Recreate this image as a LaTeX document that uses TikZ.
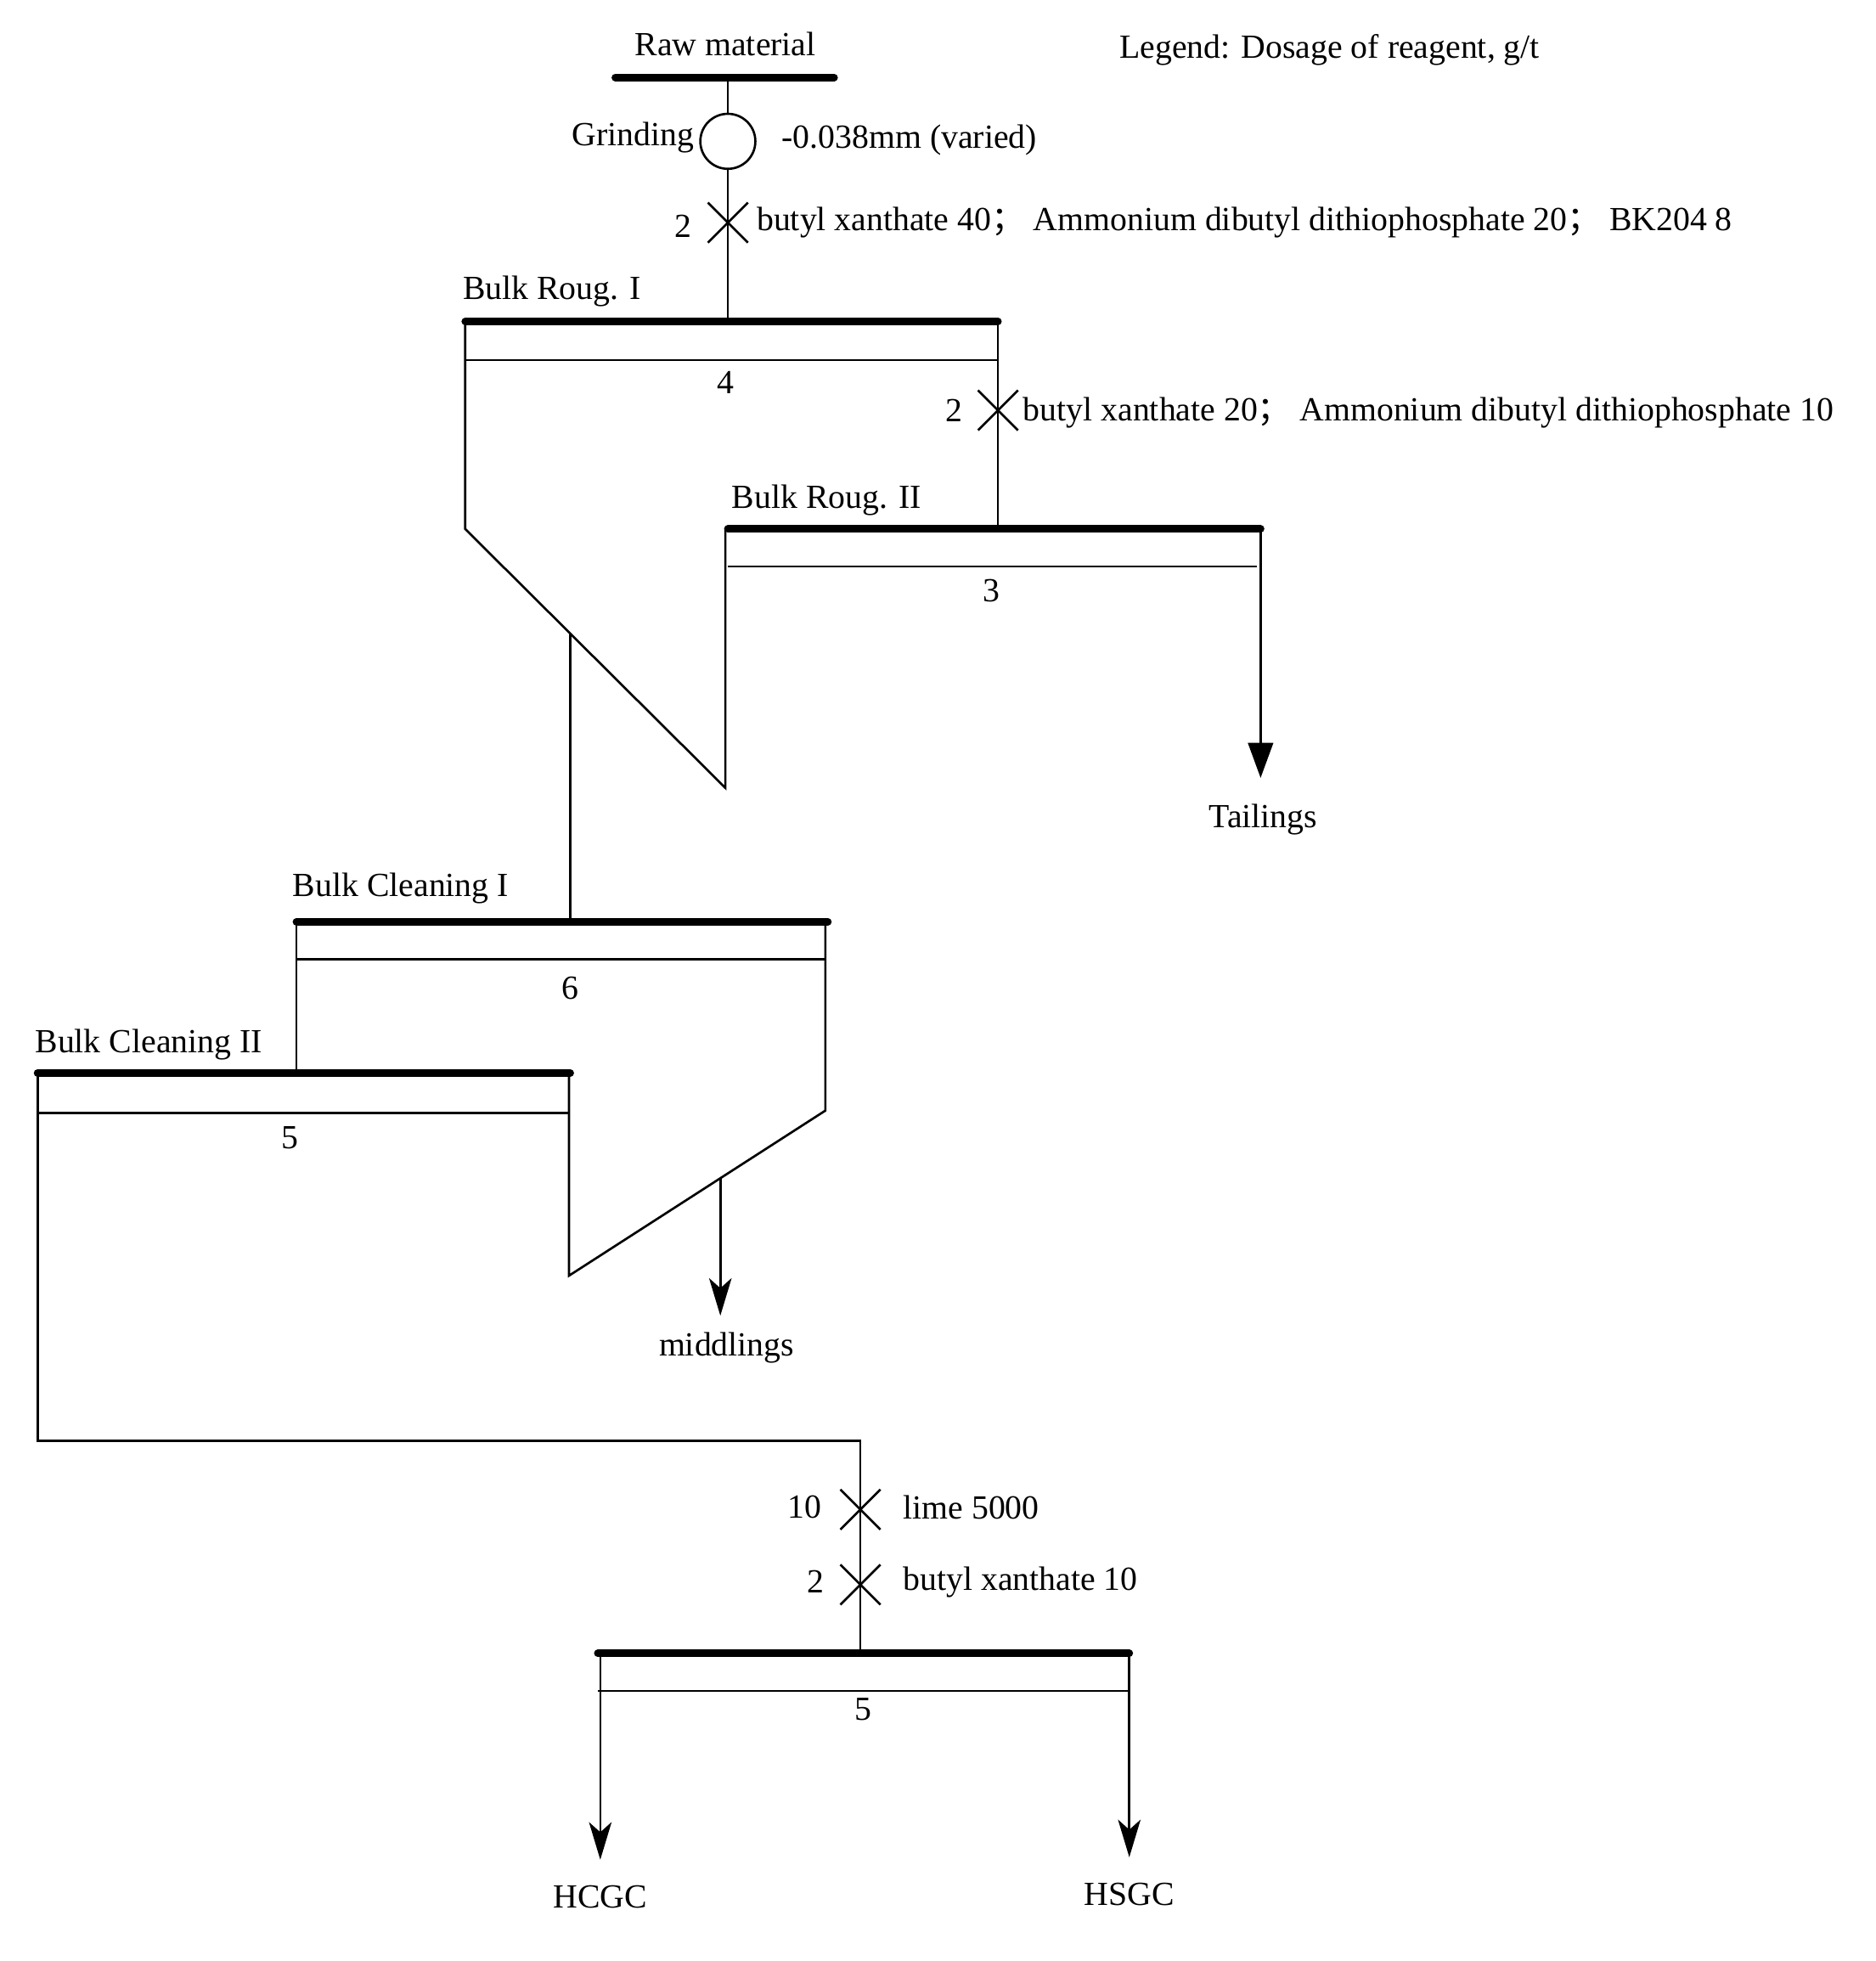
\documentclass[tikz,border=0pt]{standalone}
\usepackage{fontspec}
\setmainfont{Liberation Serif}
\newfontfamily\cjk{Noto Sans CJK SC}
\usetikzlibrary{arrows.meta}
\newcommand{\semic}{{\cjk ；}}
\newcommand{\xcross}[2]{\draw[line width=1.8pt] (#1-16,#2-16) -- (#1+16,#2+16) (#1-16,#2+16) -- (#1+16,#2-16);}
\begin{document}
\begin{tikzpicture}[x=1pt,y=-1pt,
  thick bar/.style={line width=6pt,line cap=round},
  ln/.style={line width=1.8pt},
  lbl/.style={font=\fontsize{27}{30}\selectfont,inner sep=0pt},
  lab/.style={lbl,anchor=west},
  arr/.style={ln,-{Stealth[length=30pt,width=18pt,inset=8pt]}},
  farr/.style={ln,-{Triangle[length=28pt,width=20pt]}}]
\useasboundingbox (0,0) rectangle (1500,1568);
% texts
\node[lbl] (raw) at (580,35) {Raw material};
\node[lab] (legend) at (895,40) {Legend: Dosage of reagent, g/t};
\node[lbl,anchor=east] (grind) at (555,110) {Grinding};
\node[lab] (size) at (625,112) {-0.038mm (varied)};
\node[lbl,anchor=east] (n1) at (553,181) {2};
\node[lab] (r1) at (605,178) {butyl xanthate 40\semic\ Ammonium dibutyl dithiophosphate 20\semic\ BK204 8};
\node[lab] (br1) at (370,233) {Bulk Roug. I};
\node[lbl] (f4) at (580,306) {4};
\node[lbl,anchor=east] (n2) at (770,328) {2};
\node[lab] (r2) at (818,330) {butyl xanthate 20\semic\ Ammonium dibutyl dithiophosphate 10};
\node[lab] (br2) at (585,400) {Bulk Roug. II};
\node[lbl] (f3) at (793,472) {3};
\node[lbl] (tail) at (1010,655) {Tailings};
\node[lab] (bc1) at (234,710) {Bulk Cleaning I};
\node[lbl] (f6) at (456,790) {6};
\node[lab] (bc2) at (28,835) {Bulk Cleaning II};
\node[lbl] (f5) at (232,910) {5};
\node[lbl] (mid) at (581,1078) {middlings};
\node[lbl,anchor=east] (n10) at (657,1205) {10};
\node[lab] (lime) at (722,1205) {lime 5000};
\node[lbl,anchor=east] (n3) at (659,1265) {2};
\node[lab] (r3) at (722,1265) {butyl xanthate 10};
\node[lbl] (f5b) at (690,1367) {5};
\node[lbl] (hcgc) at (480,1517) {HCGC};
\node[lbl] (hsgc) at (903,1515) {HSGC};
% coordinates
\coordinate (feed) at (582,62);
\coordinate (c1) at (582,113);
\coordinate (r1top) at (582,257);
\coordinate (r2feed) at (798,257);
\coordinate (r2top) at (798,423);
\coordinate (d1a) at (372,423);
\coordinate (d1b) at (580,630);
\coordinate (d1c) at (580,423);
\coordinate (j1) at (456,507);
\coordinate (bc1top) at (456,737);
\coordinate (t1) at (1008,423);
\coordinate (t2) at (1008,622);
% bars
\draw[thick bar] (492,62) -- (667,62);
\draw[thick bar] (372,257) -- (798,257);
\draw[ln] (372,288) -- (798,288);
\draw[thick bar] (582,423) -- (1008,423);
\draw[ln] (582,453) -- (1005,453);
\draw[thick bar] (237,737) -- (662,737);
\draw[ln] (237,767) -- (660,767);
\draw[thick bar] (30,858) -- (456,858);
\draw[ln] (30,890) -- (455,890);
\draw[thick bar] (478,1322) -- (903,1322);
\draw[ln] (478,1352) -- (903,1352);
% flows
\draw[ln] (feed) -- (582,91);
\draw[ln] (c1) circle[radius=22];
\draw[ln] (582,135) -- (r1top);
\xcross{582}{178}
\draw[ln] (r2feed) -- (r2top);
\xcross{798}{328}
\draw[ln] (372,257) -- (d1a) -- (d1b) -- (d1c);
\draw[farr] (t1) -- (t2);
\draw[ln] (j1) -- (bc1top);
\draw[ln] (237,737) -- (237,858);
\draw[ln] (660,737) -- (660,888) -- (455,1020) -- (455,858);
\draw[arr] (576,942) -- (576,1052);
\draw[ln] (30,858) -- (30,1152) -- (688,1152) -- (688,1322);
\xcross{688}{1207}
\xcross{688}{1267}
\draw[arr] (480,1322) -- (480,1487);
\draw[arr] (903,1322) -- (903,1485);
\end{tikzpicture}
\end{document}
